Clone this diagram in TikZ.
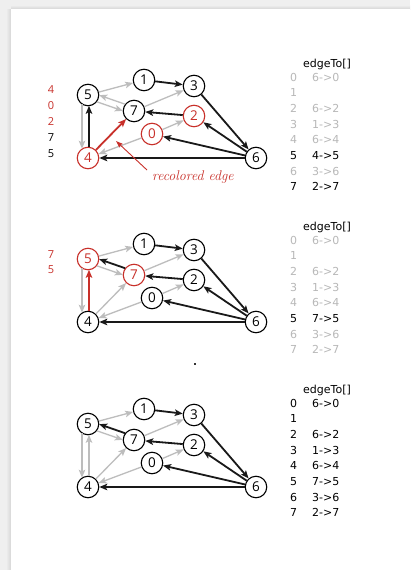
\documentclass[tikz,border=0pt]{standalone}
\usepackage{fontspec}
\usetikzlibrary{arrows.meta,calc}
\newfontfamily\nodefont{Open Sans}
\newfontfamily\tabfont{DejaVu Sans}
\definecolor{redc}{HTML}{C8302A}
\definecolor{edgegray}{HTML}{BDBDBD}
\definecolor{tabgray}{HTML}{B8B8B8}
\definecolor{bgray}{HTML}{EFEFEF}
\definecolor{shadowgray}{HTML}{D6D6D6}
\begin{document}
\begin{tikzpicture}[x=1pt,y=-1pt,
  >={Stealth[length=8pt,width=6.5pt,inset=1.8pt]},
  nd/.style={circle, draw=black, line width=1.1pt, fill=white, minimum size=21.5pt, inner sep=0pt, font=\nodefont\fontsize{13.5}{13.5}\selectfont},
  rnd/.style={nd, draw=redc, text=redc},
  be/.style={->, line width=1.8pt, black!90},
  ge/.style={->, line width=1.3pt, edgegray},
  re/.style={->, line width=1.8pt, redc},
  ql/.style={font=\nodefont\fontsize{11}{11}\selectfont, inner sep=0pt},
  tb/.style={font=\tabfont\fontsize{11}{11}\selectfont, anchor=west, inner sep=0pt},
  tg/.style={tb, text=tabgray}]
\useasboundingbox (0,0) rectangle (410,570);
\fill[bgray] (0,0) rectangle (410,570);
\shade[left color=bgray, right color=shadowgray] (6,9) rectangle (11,570);
\shade[top color=bgray, bottom color=shadowgray] (11,5) rectangle (410,9);
\fill[white] (11,9) rectangle (410,570);

% ---------- panel 1 ----------
\begin{scope}
\node[nd]  (a5) at (88,95) {5};
\node[nd]  (a1) at (144,80) {1};
\node[nd]  (a3) at (194,86) {3};
\node[nd]  (a7) at (134,111) {7};
\node[rnd] (a2) at (194,116) {2};
\node[rnd] (a0) at (152,134) {0};
\node[rnd] (a4) at (88,158) {4};
\node[nd]  (a6) at (256,158) {6};
\draw[ge] (a5) -- (a1);
\draw[ge] (a7) -- (a3);
\draw[ge] (a0) -- (a4);
\draw[ge] (a0) -- (a2);
\draw[ge, shorten <=10.6pt, shorten >=10.6pt] ($(a5)!3.5pt!-90:(a7)$) -- ($(a7)!3.5pt!90:(a5)$);
\draw[ge, shorten <=10.6pt, shorten >=10.6pt] ($(a7)!3.5pt!-90:(a5)$) -- ($(a5)!3.5pt!90:(a7)$);
\draw[ge, shorten <=9.3pt, shorten >=9.3pt] ($(a5)+(-6,0)$) -- ($(a4)+(-6,0)$);
\draw[be] (a1) -- (a3);
\draw[be] (a3) -- (a6);
\draw[be] (a6) -- (a2);
\draw[be] (a6) -- (a0);
\draw[be] (a6) -- (a4);
\draw[be] (a2) -- (a7);
\draw[be, shorten <=10.8pt, shorten >=10.8pt] ($(a4)+(1,0)$) -- ($(a5)+(1,0)$);
\draw[re] (a4) -- (a7);
\node[ql, text=redc] (q1) at (51,90) {4};
\node[ql, text=redc] (q2) at (51,106) {0};
\node[ql, text=redc] (q3) at (51,122) {2};
\node[ql] (q4) at (51,138) {7};
\node[ql] (q5) at (51,154) {5};
\node[anchor=west, inner sep=0pt, text=redc, font=\itshape\fontsize{14}{14}\selectfont] (rl) at (152,177) {recolored edge};
\coordinate (rtail) at (147,170);
\coordinate (rhead) at (116,141);
\draw[redc, line width=0.9pt, -{Stealth[length=7pt,width=5pt,inset=1.2pt]}] (rtail) -- (rhead);
\end{scope}

% ---------- panel 2 ----------
\begin{scope}[shift={(0,164)}]
\node[rnd] (b5) at (88,95) {5};
\node[nd]  (b1) at (144,80) {1};
\node[nd]  (b3) at (194,86) {3};
\node[rnd] (b7) at (134,111) {7};
\node[nd]  (b2) at (194,116) {2};
\node[nd]  (b0) at (152,134) {0};
\node[nd]  (b4) at (88,158) {4};
\node[nd]  (b6) at (256,158) {6};
\draw[ge] (b5) -- (b1);
\draw[ge] (b7) -- (b3);
\draw[ge] (b0) -- (b4);
\draw[ge] (b0) -- (b2);
\draw[ge] (b4) -- (b7);
\draw[ge, shorten <=10.6pt, shorten >=10.6pt] ($(b5)!3.5pt!-90:(b7)$) -- ($(b7)!3.5pt!90:(b5)$);
\draw[ge, shorten <=9.3pt, shorten >=9.3pt] ($(b5)+(-6,0)$) -- ($(b4)+(-6,0)$);
\draw[be] (b1) -- (b3);
\draw[be] (b3) -- (b6);
\draw[be] (b6) -- (b2);
\draw[be] (b6) -- (b0);
\draw[be] (b6) -- (b4);
\draw[be] (b2) -- (b7);
\draw[be, shorten <=10.6pt, shorten >=10.6pt] ($(b7)!3.5pt!-90:(b5)$) -- ($(b5)!3.5pt!90:(b7)$);
\draw[re, shorten <=10.8pt, shorten >=10.8pt] ($(b4)+(1,0)$) -- ($(b5)+(1,0)$);
\node[ql, text=redc] (r1) at (51,91) {7};
\node[ql, text=redc] (r2) at (51,106) {5};
\end{scope}

% ---------- panel 3 ----------
\begin{scope}[shift={(0,329)}]
\node[nd] (c5) at (88,95) {5};
\node[nd] (c1) at (144,80) {1};
\node[nd] (c3) at (194,86) {3};
\node[nd] (c7) at (134,111) {7};
\node[nd] (c2) at (194,116) {2};
\node[nd] (c0) at (152,134) {0};
\node[nd] (c4) at (88,158) {4};
\node[nd] (c6) at (256,158) {6};
\draw[ge] (c5) -- (c1);
\draw[ge] (c7) -- (c3);
\draw[ge] (c0) -- (c4);
\draw[ge] (c0) -- (c2);
\draw[ge] (c4) -- (c7);
\draw[ge, shorten <=10.6pt, shorten >=10.6pt] ($(c5)!3.5pt!-90:(c7)$) -- ($(c7)!3.5pt!90:(c5)$);
\draw[ge, shorten <=9.3pt, shorten >=9.3pt] ($(c5)+(-6,0)$) -- ($(c4)+(-6,0)$);
\draw[ge, shorten <=10.8pt, shorten >=10.8pt] ($(c4)+(1,0)$) -- ($(c5)+(1,0)$);
\draw[be] (c1) -- (c3);
\draw[be] (c3) -- (c6);
\draw[be] (c6) -- (c2);
\draw[be] (c6) -- (c0);
\draw[be] (c6) -- (c4);
\draw[be] (c2) -- (c7);
\draw[be, shorten <=10.6pt, shorten >=10.6pt] ($(c7)!3.5pt!-90:(c5)$) -- ($(c5)!3.5pt!90:(c7)$);
\end{scope}

% ---------- tables ----------
\begin{scope}
\node[tb] (h1) at (303,64) {edgeTo[]};
\node[tg] (t10) at (290,77) {0}; \node[tg] (v10) at (312,77) {6->0};
\node[tg] (t11) at (290,92.7) {1};
\node[tg] (t12) at (290,108.4) {2}; \node[tg] (v12) at (312,108.4) {6->2};
\node[tg] (t13) at (290,124.1) {3}; \node[tg] (v13) at (312,124.1) {1->3};
\node[tg] (t14) at (290,139.8) {4}; \node[tg] (v14) at (312,139.8) {6->4};
\node[tb] (t15) at (290,155.5) {5}; \node[tb] (v15) at (312,155.5) {4->5};
\node[tg] (t16) at (290,171.2) {6}; \node[tg] (v16) at (312,171.2) {3->6};
\node[tb] (t17) at (290,186.9) {7}; \node[tb] (v17) at (312,186.9) {2->7};
\end{scope}
\begin{scope}[shift={(0,163)}]
\node[tb] (h2) at (303,64) {edgeTo[]};
\node[tg] (t20) at (290,77) {0}; \node[tg] (v20) at (312,77) {6->0};
\node[tg] (t21) at (290,92.7) {1};
\node[tg] (t22) at (290,108.4) {2}; \node[tg] (v22) at (312,108.4) {6->2};
\node[tg] (t23) at (290,124.1) {3}; \node[tg] (v23) at (312,124.1) {1->3};
\node[tg] (t24) at (290,139.8) {4}; \node[tg] (v24) at (312,139.8) {6->4};
\node[tb] (t25) at (290,155.5) {5}; \node[tb] (v25) at (312,155.5) {7->5};
\node[tg] (t26) at (290,171.2) {6}; \node[tg] (v26) at (312,171.2) {3->6};
\node[tg] (t27) at (290,186.9) {7}; \node[tg] (v27) at (312,186.9) {2->7};
\end{scope}
\begin{scope}[shift={(0,326)}]
\node[tb] (h3) at (303,64) {edgeTo[]};
\node[tb] (t30) at (290,77) {0}; \node[tb] (v30) at (312,77) {6->0};
\node[tb] (t31) at (290,92.7) {1};
\node[tb] (t32) at (290,108.4) {2}; \node[tb] (v32) at (312,108.4) {6->2};
\node[tb] (t33) at (290,124.1) {3}; \node[tb] (v33) at (312,124.1) {1->3};
\node[tb] (t34) at (290,139.8) {4}; \node[tb] (v34) at (312,139.8) {6->4};
\node[tb] (t35) at (290,155.5) {5}; \node[tb] (v35) at (312,155.5) {7->5};
\node[tb] (t36) at (290,171.2) {6}; \node[tb] (v36) at (312,171.2) {3->6};
\node[tb] (t37) at (290,186.9) {7}; \node[tb] (v37) at (312,186.9) {2->7};
\end{scope}

\fill[black!80] (194,363) rectangle (196.2,365.2);
\end{tikzpicture}
\end{document}
